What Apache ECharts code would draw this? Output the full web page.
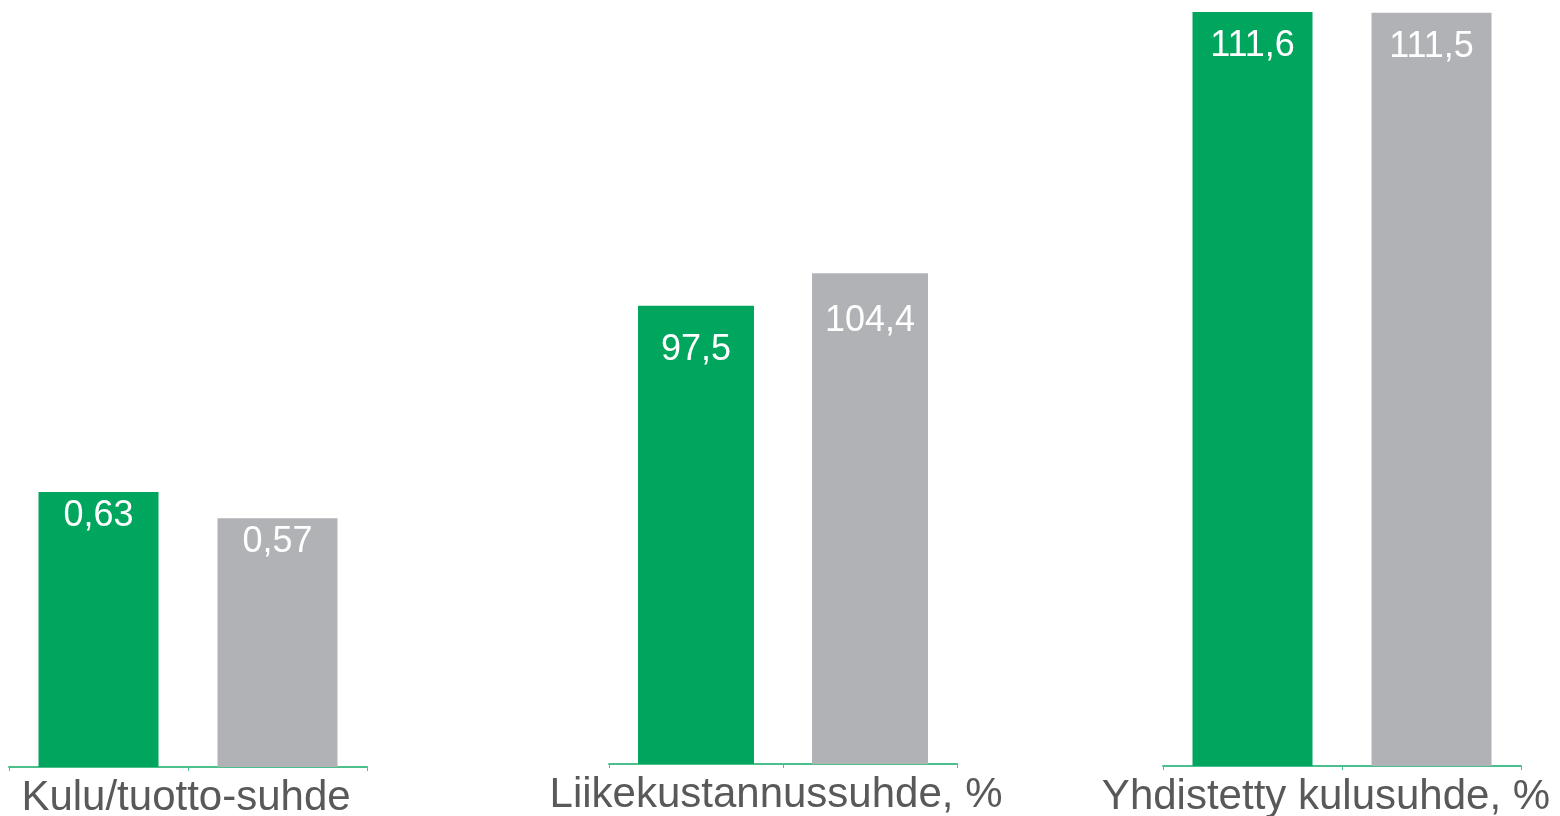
<!DOCTYPE html>
<html>
<head>
<meta charset="utf-8">
<script src="https://cdn.jsdelivr.net/npm/echarts@6/dist/echarts.min.js"></script>
<style>
  html, body { margin: 0; padding: 0; background: #fff; }
  #chart { width: 1560px; height: 816px; }
</style>
</head>
<body>
<div id="chart"></div>
<script>
// chart data
const groupNames = ["Kulu/tuotto-suhde", "Liikekustannussuhde, %", "Yhdistetty kulusuhde, %"];
const greenValues = [0.63, 97.5, 111.6];
const grayValues = [0.57, 104.4, 111.5];
const yMax = [1.73, 160, 111.6];

// layout per panel (namePad nudges the group title left like in the original slide)
const panels = [
  { left: 9, width: 358, bottom: 49, barWidth: 120, gaps: [6, 6], namePad: 4 },
  { left: 609, width: 348, bottom: 52, barWidth: 116, gaps: [26, 30], namePad: 14 },
  { left: 1163, width: 358, bottom: 50, barWidth: 120, gaps: [16, 16], namePad: 32 },
];

const GREEN = "#00a65d";
const GRAY = "#b1b2b6";
const AXIS = "#4cc08c";
const FONT = "Liberation Sans, Arial, sans-serif";

const fmt = (v) => String(v).replace(".", ",");

const chart = echarts.init(document.getElementById("chart"));

const grid = [], xAxis = [], yAxis = [], series = [];
panels.forEach((p, i) => {
  grid.push({
    left: p.left,
    width: p.width,
    top: 12,
    bottom: p.bottom,
    containLabel: false,
    outerBoundsMode: "none",
  });
  xAxis.push({
    gridIndex: i,
    type: "category",
    data: ["a", "b"],
    name: groupNames[i],
    nameLocation: "middle",
    nameGap: 10,
    nameTextStyle: {
      fontSize: 42,
      color: "#595959",
      fontFamily: FONT,
      verticalAlign: "top",
      padding: [0, p.namePad, 0, 0],
    },
    axisLine: { lineStyle: { color: AXIS, width: 2 } },
    axisTick: { show: true, length: 4, lineStyle: { color: AXIS, width: 1 } },
    axisLabel: { show: false },
  });
  yAxis.push({
    gridIndex: i,
    type: "value",
    min: 0,
    max: yMax[i],
    show: false,
    splitLine: { show: false },
  });
  const vals = [greenValues[i], grayValues[i]];
  const colors = [GREEN, GRAY];
  series.push({
    type: "bar",
    xAxisIndex: i,
    yAxisIndex: i,
    barWidth: p.barWidth,
    animation: false,
    data: vals.map((v, j) => ({
      value: v,
      itemStyle: { color: colors[j] },
      label: {
        show: true,
        position: "insideTop",
        distance: p.gaps[j],
        color: "#fff",
        fontSize: 36,
        fontFamily: FONT,
        formatter: (d) => fmt(d.value),
      },
    })),
  });
});

chart.setOption({
  backgroundColor: "#fff",
  animation: false,
  grid: grid,
  xAxis: xAxis,
  yAxis: yAxis,
  series: series,
});
</script>
</body>
</html>
